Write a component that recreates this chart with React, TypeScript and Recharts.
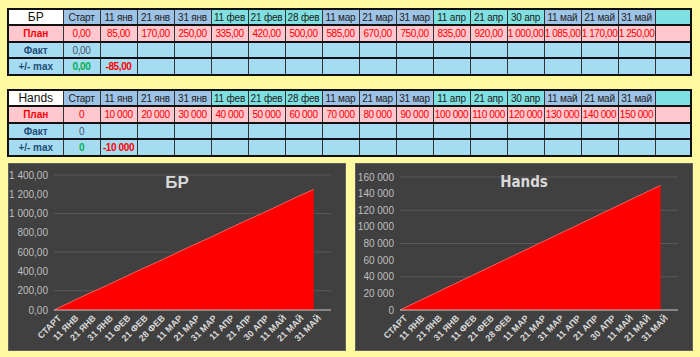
import React from "react";
import { AreaChart, Area, XAxis, YAxis, CartesianGrid } from "recharts";

// column headers of both tables (the last column is an empty spare one)
const categories = [
  "Старт", "11 янв", "21 янв", "31 янв", "11 фев", "21 фев", "28 фев",
  "11 мар", "21 мар", "31 мар", "11 апр", "21 апр", "30 апр",
  "11 май", "21 май", "31 май",
];

const brPlan = [0, 85, 170, 250, 335, 420, 500, 585, 670, 750, 835, 920, 1000, 1085, 1170, 1250];
const brFact = [0];
const brDiff = [0, -85];

const handsPlan = [0, 10000, 20000, 30000, 40000, 50000, 60000, 70000, 80000, 90000, 100000, 110000, 120000, 130000, 140000, 150000];
const handsFact = [0];
const handsDiff = [0, -10000];

const brTicks = [0, 200, 400, 600, 800, 1000, 1200, 1400];
const handsTicks = [0, 20000, 40000, 60000, 80000, 100000, 120000, 140000, 160000];

const FONT = "'Liberation Sans Narrow', 'Liberation Sans', Arial, sans-serif";

const BLUE = "#9DC3E6";
const TEAL = "#7EE0E0";
const PINK = "#FFC7CE";
const SKY = "#A6DCF2";

// 1250 -> "1 250,00" (non-breaking space so svg text does not wrap)
const fmt = (v: number, dec: number) => {
  const [i, d] = v.toFixed(dec).split(".");
  const ii = i.replace(/\B(?=(\d{3})+(?!\d))/g, "\u00A0");
  return d ? ii + "," + d : ii;
};

const headerColor = (name: string) => {
  if (name.includes("фев") || name.includes("апр")) return TEAL;
  return BLUE;
};

const cell = (bg: string, extra: React.CSSProperties = {}): React.CSSProperties => ({
  background: bg,
  border: "1px solid #333",
  borderTop: "2px solid #111",
  borderBottom: "2px solid #111",
  padding: 0,
  textAlign: "center",
  whiteSpace: "nowrap",
  overflow: "hidden",
  fontSize: 10,
  letterSpacing: -0.4,
  color: "#222",
  ...extra,
});

interface TableProps {
  title: string;
  plan: number[];
  fact: number[];
  diff: number[];
  dec: number;
  top: number;
}

const PlanTable: React.FC<TableProps> = ({ title, plan, fact, diff, dec, top }) => {
  const cols = [...categories, ""];
  return (
    <table
      style={{
        position: "absolute",
        left: 7,
        top,
        borderCollapse: "collapse",
        tableLayout: "fixed",
        width: 685,
        fontFamily: FONT,
        border: "2px solid #111",
      }}
    >
      <colgroup>
        <col style={{ width: 55 }} />
        {cols.map((c, i) => (
          <col key={i} style={{ width: i === cols.length - 1 ? 36 : 37 }} />
        ))}
      </colgroup>
      <tbody>
        <tr style={{ height: 16 }}>
          <td style={cell("#FFFFFF", { fontSize: 12, color: "#111", letterSpacing: 0 })}>{title}</td>
          {cols.map((c, i) => (
            <td key={i} style={cell(i === cols.length - 1 ? TEAL : headerColor(c), { letterSpacing: -0.2 })}>{c}</td>
          ))}
        </tr>
        <tr style={{ height: 17 }}>
          <td style={cell(PINK, { color: "#FF0000", fontWeight: "bold", letterSpacing: 0 })}>План</td>
          {cols.map((c, i) => (
            <td key={i} style={cell(PINK, { color: "#FF0000" })}>
              {plan[i] !== undefined ? fmt(plan[i], dec) : ""}
            </td>
          ))}
        </tr>
        <tr style={{ height: 16 }}>
          <td style={cell(SKY, { color: "#1F4E79", fontWeight: "bold", letterSpacing: 0 })}>Факт</td>
          {cols.map((c, i) => (
            <td key={i} style={cell(SKY, { color: "#44546A" })}>
              {fact[i] !== undefined ? fmt(fact[i], dec) : ""}
            </td>
          ))}
        </tr>
        <tr style={{ height: 17 }}>
          <td style={cell(SKY, { color: "#1F4E79", fontWeight: "bold", letterSpacing: 0 })}>+/- max</td>
          {cols.map((c, i) => (
            <td
              key={i}
              style={cell(SKY, {
                fontWeight: "bold",
                color: diff[i] < 0 ? "#FF0000" : "#00B050",
              })}
            >
              {diff[i] !== undefined ? fmt(diff[i], dec) : ""}
            </td>
          ))}
        </tr>
      </tbody>
    </table>
  );
};

const XTick = (props: any) => {
  const { x, y, payload } = props;
  const ax = x + 3;
  const ay = y - 4;
  return (
    <text
      x={ax}
      y={ay}
      transform={`rotate(-45 ${ax} ${ay})`}
      textAnchor="end"
      dy="0.75em"
      fill="#D9D9D9"
      fontSize={9}
      fontWeight="bold"
      fontFamily={FONT}
    >
      {payload.value}
    </text>
  );
};

interface ChartProps {
  title: string;
  values: number[];
  ticks: number[];
  dec: number;
  left: number;
  yWidth: number;
  top: number;
  titleFont: string;
  titleSize: number;
}

const PlanChart: React.FC<ChartProps> = ({ title, values, ticks, dec, left, yWidth, top, titleFont, titleSize }) => {
  const data = [...categories, ""].map((c, i) => ({
    name: c.toUpperCase(),
    plan: values[i] !== undefined ? values[i] : null,
  }));
  return (
    <div
      style={{
        position: "absolute",
        left,
        top: 163,
        width: 338,
        height: 188,
        background: "#404040",
        boxSizing: "border-box",
        border: "1px solid #5f5f5f",
      }}
    >
      <AreaChart
        width={336}
        height={186}
        data={data}
        margin={{ top: top, right: 14, bottom: 0, left: 0 }}
      >
        <CartesianGrid vertical={false} stroke="#585858" />
        <XAxis
          dataKey="name"
          interval={0}
          tickLine={false}
          axisLine={{ stroke: "#BFBFBF" }}
          tick={<XTick />}
          height={40}
        />
        <YAxis
          domain={[0, ticks[ticks.length - 1]]}
          ticks={ticks}
          width={yWidth}
          tickLine={false}
          axisLine={false}
          tickSize={0}
          tickMargin={6}
          tickFormatter={(v: number) => fmt(v, dec)}
          tick={{ fill: "#BFBFBF", fontSize: 10, fontFamily: FONT }}
        />
        <Area
          type="linear"
          dataKey="plan"
          stroke="#FF5A5A"
          strokeWidth={1}
          fill="#FF0000"
          fillOpacity={1}
          isAnimationActive={false}
        />
      </AreaChart>
      <div
        style={{
          position: "absolute",
          left: 0,
          width: 336,
          top: 9,
          textAlign: "center",
          color: "#D9D9D9",
          fontWeight: "bold",
          fontSize: titleSize,
          fontFamily: titleFont,
        }}
      >
        {title}
      </div>
    </div>
  );
};

export default function App() {
  return (
    <div
      style={{
        position: "fixed",
        left: 0,
        top: 0,
        width: 700,
        height: 357,
        background: "#FFF9A0",
        overflow: "hidden",
      }}
    >
      <PlanTable title="БР" plan={brPlan} fact={brFact} diff={brDiff} dec={2} top={8} />
      <PlanTable title="Hands" plan={handsPlan} fact={handsFact} diff={handsDiff} dec={0} top={89} />
      <PlanChart
        title="БР"
        values={brPlan}
        ticks={brTicks}
        dec={2}
        left={8}
        yWidth={45}
        top={11}
        titleFont={FONT}
        titleSize={17}
      />
      <PlanChart
        title="Hands"
        values={handsPlan}
        ticks={handsTicks}
        dec={0}
        left={355}
        yWidth={44}
        top={13}
        titleFont="'DejaVu Sans Condensed', 'Liberation Sans Narrow', sans-serif"
        titleSize={15}
      />
    </div>
  );
}
